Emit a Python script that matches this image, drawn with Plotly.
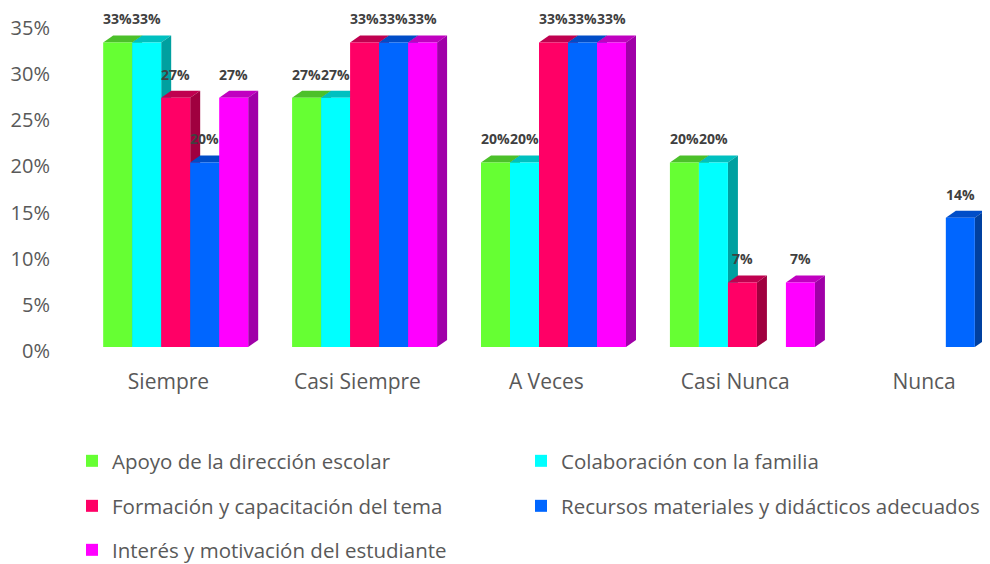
import plotly.graph_objects as go

categories = ["Siempre", "Casi Siempre", "A Veces", "Casi Nunca", "Nunca"]
series_names = [
    "Apoyo de la dirección escolar",
    "Colaboración con la familia",
    "Formación y capacitación del tema",
    "Recursos materiales y didácticos adecuados",
    "Interés y motivación del estudiante",
]
apoyo = [0.33, 0.27, 0.20, 0.20, 0.0]
colaboracion = [0.33, 0.27, 0.20, 0.20, 0.0]
formacion = [0.27, 0.33, 0.33, 0.07, 0.0]
recursos = [0.20, 0.33, 0.33, 0.0, 0.14]
interes = [0.27, 0.33, 0.33, 0.07, 0.0]
y_ticks = [0, 0.05, 0.10, 0.15, 0.20, 0.25, 0.30, 0.35]

series_values = [apoyo, colaboracion, formacion, recursos, interes]
front_colors = ["#66FF33", "#00FFFF", "#FF0066", "#0066FF", "#FF00FF"]
top_colors = ["#4CC02A", "#00C0C0", "#C0004F", "#004DC8", "#C000C0"]
side_colors = ["#3A9A1F", "#00A0A0", "#A0003F", "#0040A0", "#A000A8"]

# page body has an 8px margin; figure is sized/placed to compensate
OFF = 8
W, H = 990 - OFF, 564 - OFF
ML = 51 - OFF
MT = 24 - OFF
MR = W - (988 - OFF)
MB = H - (347 - OFF)
XR = [-0.66, 4.30]
YR = [0, 0.35]
plot_w = W - ML - MR
plot_h = H - MT - MB
px_x = plot_w / (XR[1] - XR[0])
px_y = plot_h / (YR[1] - YR[0])
bar_w = 29 / px_x
dx = 10 / px_x
dy = 7 / px_y

legend_ids = ["legend", "legend2", "legend3", "legend4", "legend5"]
# legend placement in screen pixels (left edge of legend box, row center)
legend_pos = [(72, 461), (521, 461), (72, 506), (521, 506), (72, 550)]

fig = go.Figure()
shapes = []
annotations = []
for j, (name, vals) in enumerate(zip(series_names, series_values)):
    xs = [i + (j - 2) * bar_w for i in range(len(categories))]
    fig.add_trace(go.Bar(
        x=xs, y=vals, width=bar_w, name=name,
        marker=dict(color=front_colors[j], line=dict(width=0)),
        legend=legend_ids[j], hoverinfo="skip",
    ))
for i in range(len(categories)):
    for j, vals in enumerate(series_values):
        v = vals[i]
        if v <= 0:
            continue
        xc = i + (j - 2) * bar_w
        L, R = xc - bar_w / 2, xc + bar_w / 2
        shapes.append(dict(
            type="path", xref="x", yref="y", layer="below",
            path=f"M{L},{v} L{L+dx},{v+dy} L{R+dx},{v+dy} L{R},{v} Z",
            fillcolor=top_colors[j], line=dict(width=0),
        ))
        shapes.append(dict(
            type="path", xref="x", yref="y", layer="below",
            path=f"M{R},{v} L{R+dx},{v+dy} L{R+dx},{dy} L{R},0 Z",
            fillcolor=side_colors[j], line=dict(width=0),
        ))
        annotations.append(dict(
            x=xc, y=v + dy, xref="x", yref="y", text=f"{round(v*100):.0f}%",
            showarrow=False, yanchor="bottom", yshift=5,
            font=dict(family="Open Sans", size=14, color="#404040", weight="bold"),
        ))

legend_common = dict(
    orientation="h", xref="paper", yref="paper", xanchor="left", yanchor="middle",
    bgcolor="rgba(0,0,0,0)",
    font=dict(family="Open Sans", size=20.5, color="#595959"),
    itemclick=False, itemdoubleclick=False,
)
legends = {}
for lid, (sx, sy) in zip(legend_ids, legend_pos):
    legends[lid] = dict(
        legend_common,
        x=((sx - OFF) - ML) / plot_w,
        y=(MT + plot_h - (sy - OFF)) / plot_h,
    )

fig.update_layout(
    width=W, height=H,
    margin=dict(l=ML, r=MR, t=MT, b=MB, autoexpand=False),
    paper_bgcolor="white", plot_bgcolor="white",
    barmode="overlay",
    shapes=shapes, annotations=annotations,
    showlegend=True,
    **legends,
    xaxis=dict(
        range=XR, showgrid=False, zeroline=False, showline=False,
        tickvals=[i - 0.038 for i in range(len(categories))], ticktext=categories,
        ticks="", ticklabelstandoff=20,
        tickfont=dict(family="Open Sans", size=21, color="#595959"),
    ),
    yaxis=dict(
        range=YR, showgrid=False, zeroline=False, showline=False,
        tickvals=y_ticks, tickformat=".0%", ticks="",
        ticklabelshift=4,
        tickfont=dict(family="Open Sans", size=20, color="#595959"),
    ),
)
fig.write_html("out.html")
